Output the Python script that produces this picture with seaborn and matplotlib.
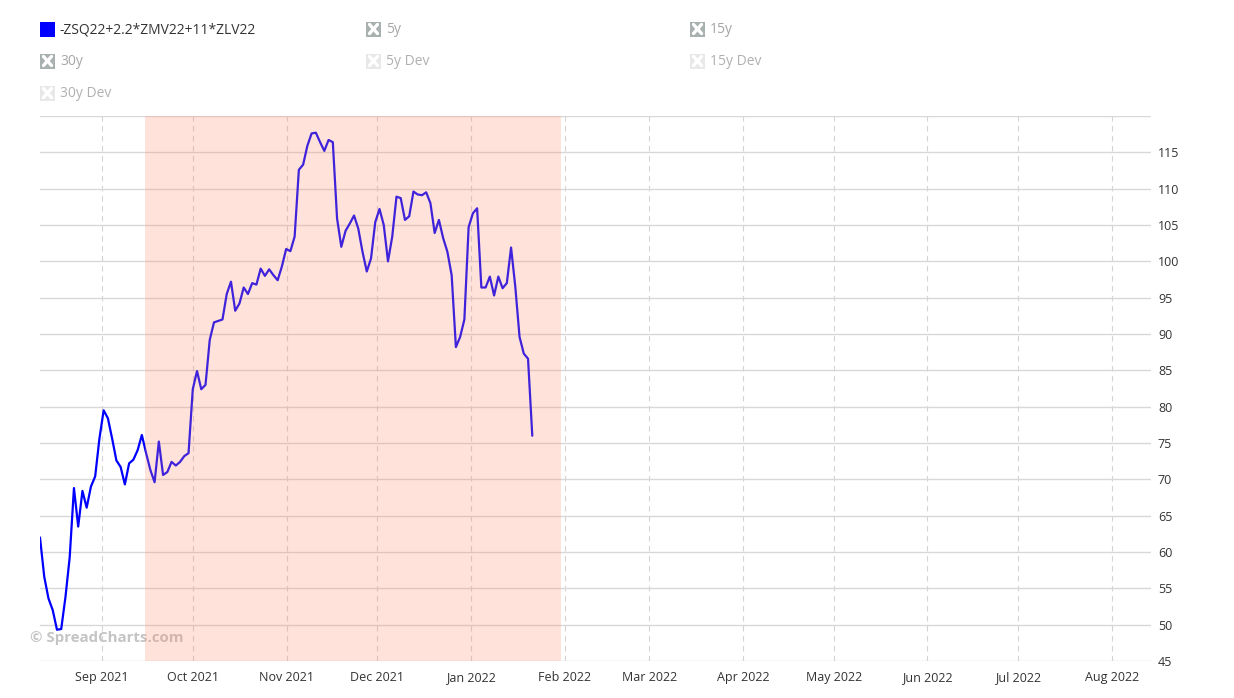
import numpy as np
import pandas as pd
import matplotlib
matplotlib.use("Agg")
import matplotlib.pyplot as plt
import matplotlib.dates as mdates
from matplotlib.patches import Rectangle
from matplotlib.lines import Line2D
import seaborn as sns

# ---------------- data ----------------
series_name = "-ZSQ22+2.2*ZMV22+11*ZLV22"
start_date = "2021-08-11 10:00"
end_date = "2022-01-21 07:00"
values = [
    62.0, 56.6, 53.6, 52.0, 49.3, 49.4, 53.8, 59.3, 68.8, 63.5,
    68.4, 66.1, 69.0, 70.4, 75.6, 79.5, 78.4, 75.6, 72.6, 71.7,
    69.3, 72.2, 72.7, 74.0, 76.1, 73.6, 71.3, 69.6, 75.2, 70.6,
    71.0, 72.4, 71.9, 72.4, 73.2, 73.6, 82.4, 84.9, 82.4, 83.0,
    89.2, 91.6, 91.8, 92.0, 95.5, 97.2, 93.2, 94.2, 96.4, 95.5,
    97.0, 96.8, 99.0, 98.0, 98.9, 98.1, 97.4, 99.3, 101.7, 101.4,
    103.4, 112.6, 113.3, 115.9, 117.6, 117.7, 116.4, 115.2, 116.7, 116.4,
    105.9, 102.0, 104.2, 105.2, 106.3, 104.5, 101.3, 98.6, 100.4, 105.4,
    107.2, 105.0, 100.0, 103.4, 108.9, 108.7, 105.7, 106.2, 109.6, 109.2,
    109.1, 109.5, 108.0, 103.9, 105.7, 103.2, 101.3, 98.1, 88.2, 89.6,
    92.0, 104.7, 106.6, 107.3, 96.4, 96.4, 97.9, 95.3, 97.9, 96.3,
    97.0, 101.9, 96.5, 89.6, 87.3, 86.6, 76.0,
]
shade_start = "2021-09-15 02:00"
shade_end = "2022-01-30 19:00"
hidden_series = ["5y", "15y", "30y"]
hidden_dev_series = ["5y Dev", "15y Dev", "30y Dev"]
y_ticks = list(range(45, 121, 5))
x_min = "2021-08-11 10:00"
x_max = "2022-08-14 00:00"
watermark = "© SpreadCharts.com"

# ---------------- style ----------------
sns.set_theme(style="white")
plt.rcParams['font.family'] = ['Open Sans', 'DejaVu Sans']

W, H = 1234, 698
fig = plt.figure(figsize=(W / 100, H / 100), dpi=100)
ax = fig.add_axes([40 / W, (H - 661) / H, 1111 / W, 545 / H])

df = pd.DataFrame({
    "date": pd.date_range(start_date, end_date, periods=len(values)),
    "value": values,
})
sns.lineplot(data=df, x="date", y="value", color="#0000ff", linewidth=1.6,
             ax=ax, legend=False, zorder=2)

ax.axvspan(pd.Timestamp(shade_start), pd.Timestamp(shade_end),
           color=(1.0, 0.55, 0.43), alpha=0.25, lw=0, zorder=3)

ax.set_xlim(pd.Timestamp(x_min), pd.Timestamp(x_max))
ax.set_ylim(45, 120)
ax.yaxis.tick_right()
ax.set_yticks(y_ticks)
ax.set_yticklabels([str(v) if v < 120 else "" for v in y_ticks])
ax.xaxis.set_major_locator(mdates.MonthLocator())
ax.xaxis.set_major_formatter(mdates.DateFormatter("%b %Y"))
ax.grid(axis='y', color='#d8d8d8', lw=1, ls='-')
ax.grid(axis='x', color='#d4d4d4', lw=0.8, ls=(0, (5, 4)))
ax.set_axisbelow(True)
for s in ax.spines.values():
    s.set_visible(False)
ax.tick_params(axis='y', length=0, labelsize=9, colors='#333333', pad=5)
ax.tick_params(axis='x', length=0, labelsize=9, colors='#333333', pad=7)
ax.set_xlabel("")
ax.set_ylabel("")

# watermark
ax.text(30 / W, 1 - 638 / H, watermark, transform=fig.transFigure,
        fontsize=10.8, fontweight='bold', color='#c4c4c4', va='center',
        ha='left', zorder=2.5, clip_on=False)

# ---------------- legend ----------------
def px(x, y):
    return x / W, 1 - y / H

def icon(x, yc, face, cross):
    x0, y0 = px(x, yc + 7.5)
    fig.add_artist(Rectangle((x0, y0), 15 / W, 15 / H, transform=fig.transFigure,
                             facecolor=face, lw=0))
    if cross:
        a = px(x + 3.5, yc - 4.5)
        b = px(x + 11.5, yc + 4.5)
        c = px(x + 3.5, yc + 4.5)
        d = px(x + 11.5, yc - 4.5)
        fig.add_artist(Line2D([a[0], b[0]], [a[1], b[1]], transform=fig.transFigure,
                              color='white', lw=2.4))
        fig.add_artist(Line2D([c[0], d[0]], [c[1], d[1]], transform=fig.transFigure,
                              color='white', lw=2.4))

def label(x, yc, text, color):
    fx, fy = px(x, yc)
    fig.text(fx, fy, text, fontsize=10, color=color, va='center', ha='left')

icon(40, 29, '#0000ff', False)
label(60, 29.5, series_name, '#333333')

slots = [(366, 29), (690, 29), (40, 61)]
for (x, y), name in zip(slots, hidden_series):
    icon(x, y, '#a9b0b0', True)
    label(x + 20, y + 0.5, name, '#a6a6a6')

slots_dev = [(366, 61), (690, 61), (40, 93)]
for (x, y), name in zip(slots_dev, hidden_dev_series):
    icon(x, y, '#e8e8e8', True)
    label(x + 20, y + 0.5, name, '#b0b0b0')

fig.savefig("out.png", dpi=100)
